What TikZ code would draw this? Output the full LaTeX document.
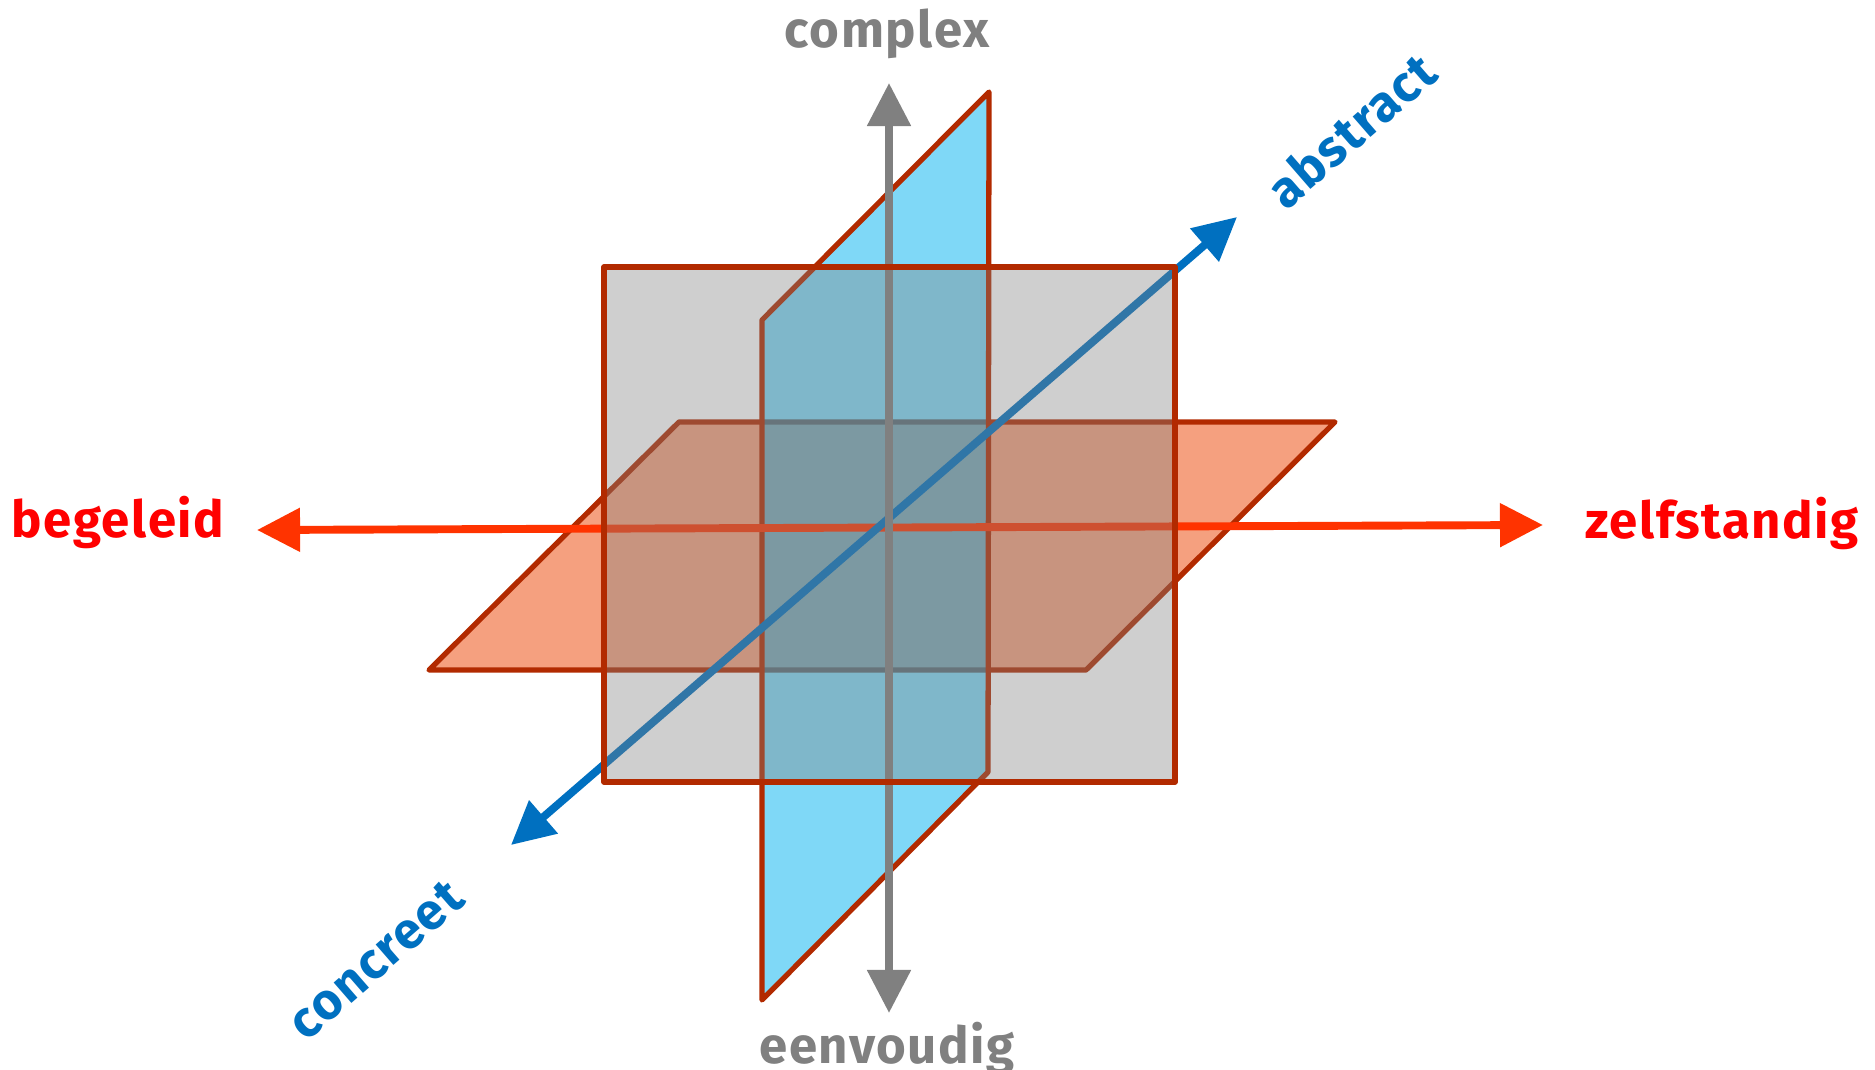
\documentclass[tikz,border=0pt]{standalone}
\usepackage{fontspec}
\setmainfont{Fira Sans}[LetterSpace=3]
\usetikzlibrary{arrows.meta}

\definecolor{edgered}{RGB}{178,42,0}
\definecolor{planeorange}{RGB}{235,66,0}
\definecolor{planeblue}{RGB}{0,178,240}
\definecolor{axisgray}{RGB}{128,128,128}
\definecolor{axisblue}{RGB}{0,112,192}
\definecolor{axisred}{RGB}{255,51,0}
\definecolor{labelred}{RGB}{255,0,0}

\begin{document}
\begin{tikzpicture}[x=0.02cm,y=-0.02cm]
\tikzset{
  plane/.style={draw=edgered,line width=3pt,line join=round},
  axis/.style={{Triangle[length=24.5pt,width=24pt]}-{Triangle[length=24.5pt,width=24pt]},line width=4.5pt},
  axislabel/.style={font=\fontsize{29}{34}\selectfont\bfseries,inner sep=0pt}
}
\useasboundingbox (0,0) rectangle (1875,1070);
% axis ends
\coordinate (a_up) at (889,83);
\coordinate (a_down) at (889,1013);
\coordinate (a_left) at (257,530);
\coordinate (a_right) at (1543,525);
\coordinate (a_back) at (1237,217);
\coordinate (a_front) at (511,845);
% planes
\draw[plane,fill=planeorange,fill opacity=0.5] (679,422) -- (1335,422) -- (1086,670) -- (429,670) -- cycle;
\draw[plane,fill=planeblue,fill opacity=0.5] (989,92) -- (988,772) -- (762,1000) -- (762,320) -- cycle;
% axes
\draw[axis,axisred] (a_left) -- (a_right);
\draw[axis,axisblue] (a_front) -- (a_back);
\draw[axis,axisgray] (a_down) -- (a_up);
\draw[plane,fill=axisgray,fill opacity=0.38] (604,267) rectangle (1175,782);
% labels
\node[axislabel,text=axisgray,anchor=base] (l_complex) at (887,48) {complex};
\node[axislabel,text=axisgray,anchor=base] (l_eenvoudig) at (887,1063) {eenvoudig};
\node[axislabel,text=labelred,anchor=base] (l_begeleid) at (118,538) {begeleid};
\node[axislabel,text=labelred,anchor=base] (l_zelfstandig) at (1722,539) {zelfstandig};
\node[axislabel,text=axisblue,rotate=41] (l_abstract) at (1351,130) {abstract};
\node[axislabel,text=axisblue,rotate=41] (l_concreet) at (376,960) {concreet};
\end{tikzpicture}
\end{document}
